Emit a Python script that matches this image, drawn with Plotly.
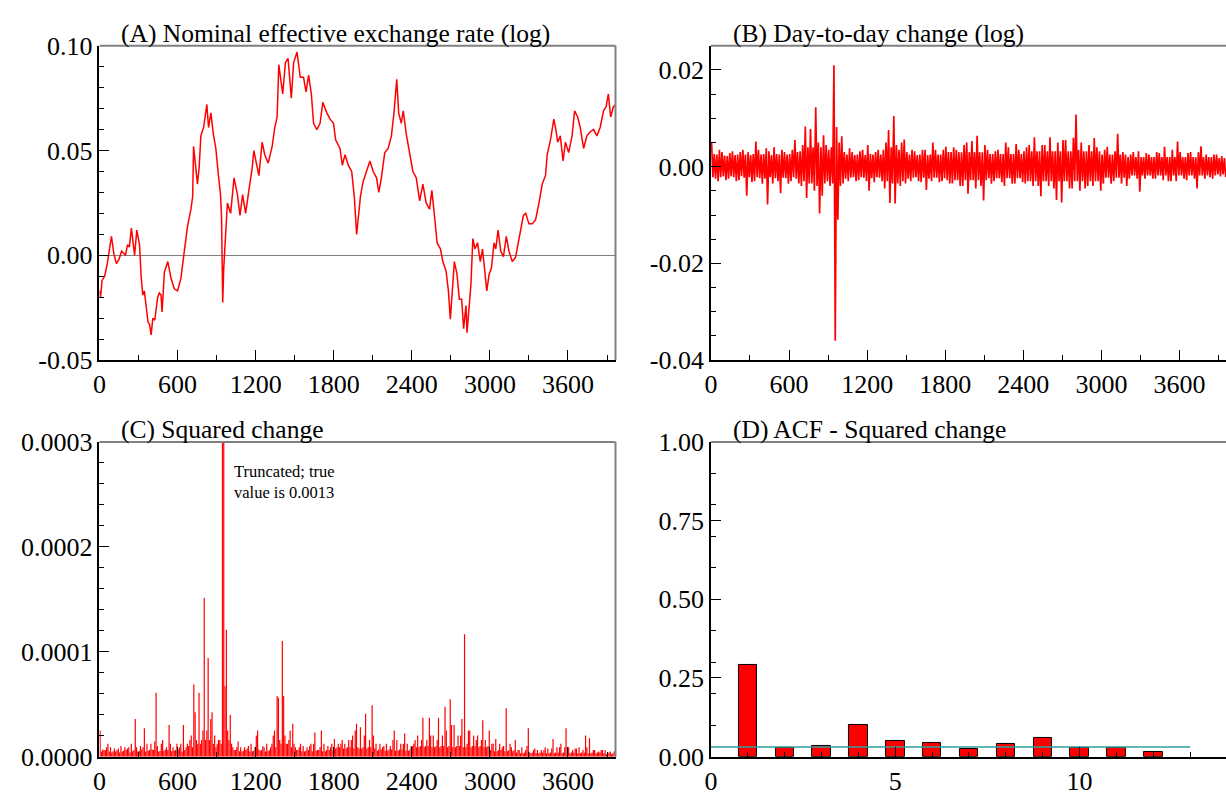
import numpy as np
import plotly.graph_objects as go

# ---------------- data ----------------
# (A) nominal effective exchange rate (log), read at key days
nee_day = [0, 8, 20, 40, 60, 80, 92, 110, 130, 150, 170, 200, 215, 230, 245, 270, 287, 308, 320, 333,
           345, 360, 373, 385, 397, 410, 425, 447, 460, 473, 481, 499, 525, 550, 575, 600, 626, 652, 677, 703,
           716, 723, 740, 753, 766, 779, 800, 825, 838, 856, 875, 894, 914, 930, 938, 947, 955, 970, 983, 1008,
           1034, 1060, 1080, 1100, 1123, 1148, 1174, 1186, 1212, 1225, 1250, 1270, 1296, 1327, 1347, 1365, 1378, 1395, 1408, 1429,
           1449, 1474, 1492, 1518, 1543, 1568, 1587, 1607, 1628, 1645, 1670, 1695, 1716, 1747, 1772, 1798, 1815, 1848, 1866, 1887,
           1912, 1938, 1958, 1976, 1990, 2005, 2025, 2052, 2078, 2103, 2129, 2146, 2166, 2192, 2218, 2243, 2263, 2284, 2299, 2319,
           2334, 2357, 2383, 2408, 2434, 2460, 2485, 2510, 2536, 2554, 2574, 2594, 2620, 2638, 2663, 2681, 2696, 2712, 2727, 2747,
           2765, 2783, 2798, 2816, 2824, 2841, 2854, 2869, 2885, 2905, 2926, 2943, 2956, 2976, 2994, 3012, 3032, 3045, 3063, 3083,
           3104, 3126, 3146, 3172, 3197, 3216, 3236, 3257, 3275, 3300, 3326, 3351, 3377, 3402, 3427, 3440, 3465, 3491, 3504, 3521,
           3541, 3562, 3580, 3605, 3631, 3651, 3674, 3694, 3720, 3745, 3771, 3796, 3822, 3847, 3873, 3893, 3910, 3928, 3949, 3962]
nee_log = [-0.017, -0.020, -0.012, -0.010, -0.004, 0.003, 0.009, 0.001, -0.004, -0.002, 0.002, 0.000, 0.005, 0.004, 0.013, 0.000, 0.012, 0.005, -0.010, -0.019,
           -0.017, -0.025, -0.032, -0.033, -0.038, -0.030, -0.031, -0.020, -0.018, -0.019, -0.027, -0.008, -0.003, -0.011, -0.016, -0.017, -0.011, 0.002, 0.014, 0.022,
           0.028, 0.052, 0.042, 0.034, 0.042, 0.057, 0.061, 0.072, 0.061, 0.068, 0.058, 0.051, 0.038, 0.029, 0.018, -0.0225, -0.006, 0.009, 0.025, 0.020,
           0.037, 0.029, 0.019, 0.029, 0.020, 0.031, 0.042, 0.050, 0.042, 0.038, 0.054, 0.048, 0.044, 0.052, 0.061, 0.066, 0.091, 0.083, 0.077, 0.092,
           0.094, 0.075, 0.092, 0.097, 0.085, 0.085, 0.078, 0.086, 0.077, 0.063, 0.060, 0.063, 0.073, 0.068, 0.065, 0.063, 0.055, 0.051, 0.043, 0.048,
           0.043, 0.040, 0.028, 0.010, 0.019, 0.028, 0.035, 0.040, 0.045, 0.040, 0.037, 0.030, 0.037, 0.049, 0.051, 0.057, 0.068, 0.084, 0.068, 0.063,
           0.069, 0.058, 0.049, 0.040, 0.037, 0.026, 0.034, 0.025, 0.022, 0.031, 0.019, 0.006, 0.003, -0.003, -0.0075, -0.017, -0.0305, -0.015, -0.003, -0.009,
           -0.021, -0.021, -0.035, -0.024, -0.037, -0.024, -0.014, 0.008, 0.003, 0.006, -0.003, 0.003, -0.004, -0.017, -0.009, -0.006, 0.006, 0.003, 0.012, 0.002,
           -0.0006, 0.009, 0.002, -0.003, -0.001, 0.005, 0.011, 0.019, 0.020, 0.015, 0.015, 0.017, 0.025, 0.034, 0.038, 0.048, 0.055, 0.065, 0.061, 0.054,
           0.057, 0.045, 0.054, 0.049, 0.057, 0.069, 0.066, 0.061, 0.051, 0.057, 0.059, 0.060, 0.057, 0.061, 0.069, 0.071, 0.077, 0.066, 0.071, 0.0715]

# (B) day-to-day change: highest and lowest change in each 20-day block (units of 0.001)
block_start = list(range(0, 3960, 20))
chg_high_milli = [5.0, 2.6, 2.5, 3.5, 3.0, 2.3, 2.2, 2.8, 3.2, 2.4,
                  2.5, 3.0, 3.5, 2.5, 3.0, 2.4, 2.6, 5.2, 3.5, 2.5,
                  2.6, 3.8, 3.2, 2.4, 4.0, 2.6, 2.5, 3.5, 3.0, 2.5,
                  2.6, 3.5, 5.5, 3.0, 3.2, 4.5, 8.3, 4.0, 7.8, 4.0,
                  12.3, 5.0, 4.0, 6.5, 4.5, 3.5, 4.0, 21.0, 8.2, 5.0,
                  6.3, 3.0, 2.5, 3.8, 3.0, 2.4, 2.5, 3.2, 3.5, 2.4,
                  4.5, 2.6, 2.5, 3.0, 3.5, 2.5, 3.5, 5.0, 7.6, 4.0,
                  10.5, 4.5, 3.5, 5.0, 5.6, 3.0, 2.5, 3.5, 3.2, 2.4,
                  2.5, 3.5, 3.5, 2.4, 2.5, 5.0, 3.5, 2.5, 2.5, 3.5,
                  4.1, 3.0, 3.0, 4.0, 3.5, 3.0, 3.0, 4.5, 5.0, 3.0,
                  5.3, 3.0, 6.4, 3.0, 3.0, 4.5, 3.5, 2.6, 2.6, 3.2,
                  3.5, 2.6, 2.6, 5.0, 4.0, 2.6, 2.6, 4.7, 3.5, 2.6,
                  3.2, 4.0, 4.5, 3.2, 6.1, 3.2, 3.2, 4.5, 4.5, 3.2,
                  6.1, 3.2, 3.2, 5.0, 3.2, 5.5, 5.5, 3.2, 3.2, 6.0,
                  10.8, 3.5, 5.0, 3.2, 3.2, 4.5, 3.2, 5.9, 4.0, 3.2,
                  2.5, 3.5, 4.1, 2.5, 2.5, 3.2, 6.8, 2.5, 3.0, 2.5,
                  2.0, 2.5, 3.0, 2.0, 3.2, 2.0, 2.0, 2.8, 2.5, 2.0,
                  2.0, 3.0, 2.8, 2.0, 4.1, 2.0, 2.0, 3.5, 2.0, 5.2,
                  3.0, 2.0, 2.0, 2.8, 3.0, 2.0, 2.0, 3.0, 4.2, 2.0,
                  2.5, 2.0, 2.0, 2.5, 2.5, 1.8, 2.2, 1.8]
chg_low_milli = [-2.2, -2.5, -3.0, -2.2, -2.0, -2.8, -2.5, -2.0, -2.2, -3.0,
                 -2.8, -2.0, -2.3, -6.0, -2.2, -3.2, -3.0, -2.2, -2.4, -3.5,
                 -2.5, -7.8, -2.2, -3.5, -2.4, -3.0, -5.5, -2.3, -2.4, -3.5,
                 -3.0, -2.2, -2.5, -3.5, -4.0, -3.0, -6.5, -3.5, -3.5, -5.0,
                 -4.0, -9.7, -6.0, -3.5, -3.0, -4.0, -3.5, -36.0, -11.0, -4.0,
                 -3.5, -2.5, -3.0, -2.3, -2.2, -3.0, -2.8, -2.2, -2.3, -3.0,
                 -5.0, -2.4, -3.2, -2.2, -2.3, -3.0, -4.5, -3.0, -7.5, -3.5,
                 -7.6, -3.5, -4.0, -3.0, -3.5, -2.5, -3.0, -2.3, -2.2, -3.0,
                 -3.2, -2.3, -4.8, -2.5, -3.0, -2.3, -2.3, -3.2, -3.0, -2.4,
                 -2.8, -3.5, -3.5, -2.8, -2.8, -4.0, -4.0, -2.8, -5.6, -2.8,
                 -2.8, -4.5, -2.8, -4.0, -7.0, -2.8, -2.4, -3.5, -3.0, -2.4,
                 -2.4, -3.2, -4.0, -2.4, -2.4, -3.5, -3.5, -2.4, -2.4, -3.2,
                 -3.5, -3.0, -3.0, -4.0, -3.0, -4.0, -6.1, -3.0, -3.0, -4.0,
                 -3.0, -4.5, -6.9, -3.0, -7.4, -3.0, -3.0, -4.5, -4.5, -3.0,
                 -3.0, -5.0, -3.0, -4.5, -4.0, -3.0, -4.0, -3.0, -3.0, -5.0,
                 -3.5, -2.3, -2.3, -3.5, -3.0, -2.3, -2.3, -3.5, -2.3, -4.0,
                 -2.5, -1.8, -1.8, -2.5, -5.2, -1.8, -2.5, -1.8, -1.8, -2.5,
                 -2.5, -1.8, -1.8, -2.8, -1.8, -3.0, -3.0, -1.8, -3.0, -1.8,
                 -1.8, -2.5, -2.8, -1.8, -1.8, -2.5, -4.5, -1.8, -1.8, -2.5,
                 -1.8, -2.2, -2.5, -1.8, -1.6, -2.0, -1.6, -2.2]

# (D) autocorrelation of squared change
acf_lag = [1, 2, 3, 4, 5, 6, 7, 8, 9, 10, 11, 12]
acf_val = [0.291, 0.029, 0.034, 0.101, 0.049, 0.044, 0.025, 0.041, 0.059, 0.029, 0.028, 0.014]
acf_ref_level = 0.031
acf_ref_lags = [0, 13]

day_ticks = [0, 600, 1200, 1800, 2400, 3000, 3600]
day_ticktext = ["0", "600", "1200", "1800", "2400", "3000", "3600"]
a_yticks = [-0.05, 0.0, 0.05, 0.10]
a_yticktext = ["-0.05", "0.00", "0.05", "0.10"]
b_yticks = [-0.04, -0.02, 0.0, 0.02]
b_yticktext = ["-0.04", "-0.02", "0.00", "0.02"]
c_yticks = [0.0, 0.0001, 0.0002, 0.0003]
c_yticktext = ["0.0000", "0.0001", "0.0002", "0.0003"]
d_yticks = [0.0, 0.25, 0.5, 0.75, 1.0]
d_yticktext = ["0.00", "0.25", "0.50", "0.75", "1.00"]
d_xticks = [0, 5, 10]
d_xticktext = ["0", "5", "10"]

# ---------------- derived series ----------------
chg_day = []
chg_val = []
for s, hi, lo in zip(block_start, chg_high_milli, chg_low_milli):
    chg_day += [s + 5, s + 15]
    chg_val += [hi * 1e-3, lo * 1e-3]
chg_val = np.array(chg_val)
sq_val = chg_val ** 2

sq_x, sq_y = [], []
for d, v in zip(chg_day, sq_val):
    sq_x += [d, d, None]
    sq_y += [0.0, v, None]

# ---------------- figure ----------------
W, H = 1226, 803
RED = "#ff0000"
FONT = "Liberation Serif"

fig = go.Figure()
fig.add_trace(go.Scatter(x=nee_day, y=nee_log, mode="lines", line=dict(color=RED, width=1.5),
                         xaxis="x", yaxis="y"))
fig.add_trace(go.Scatter(x=chg_day, y=chg_val, mode="lines", line=dict(color=RED, width=1.7),
                         xaxis="x2", yaxis="y2"))
fig.add_trace(go.Scatter(x=sq_x, y=sq_y, mode="lines", line=dict(color=RED, width=1.2),
                         xaxis="x3", yaxis="y3"))
fig.add_trace(go.Bar(x=acf_lag, y=acf_val, width=0.5,
                     marker=dict(color=RED, line=dict(color="black", width=1)),
                     xaxis="x4", yaxis="y4"))
fig.add_trace(go.Scatter(x=acf_ref_lags, y=[acf_ref_level] * len(acf_ref_lags), mode="lines",
                         line=dict(color="#2e9e9a", width=1.5), xaxis="x4", yaxis="y4"))

left_dom = [93 / W, 612 / W]
right_dom = [708 / W, 1.0]
top_dom = [1 - 359 / H, 1 - 33 / H]
bot_dom = [1 - 770.5 / H, 1 - 444 / H]
right_frac = (W - 708) / 519.0

tickfont = dict(family=FONT, size=26, color="black")


def ax(domain, anchor, rng, tickvals, ticktext, minor_dtick, **kw):
    d = dict(domain=domain, anchor=anchor, range=rng, tickmode="array", tickvals=tickvals,
             ticktext=ticktext, ticks="inside", ticklen=10, tickwidth=1.2, tickcolor="black",
             showline=True, linecolor="black", linewidth=1.5, showgrid=False, zeroline=False,
             tickfont=tickfont, fixedrange=True,
             minor=dict(tickmode="linear", tick0=0, dtick=minor_dtick, ticks="inside", ticklen=5,
                        tickwidth=1, tickcolor="black", showgrid=False))
    d.update(kw)
    return d


xmax = 3965
fig.update_layout(
    width=W, height=H, margin=dict(l=0, r=0, t=0, b=0),
    paper_bgcolor="white", plot_bgcolor="white", showlegend=False,
    font=dict(family=FONT, color="black"),
    bargap=0,
    xaxis=ax(left_dom, "y", [0, xmax], day_ticks, day_ticktext, 300),
    yaxis=ax(top_dom, "x", [-0.05, 0.10], a_yticks, a_yticktext, 0.01,
             zeroline=True, zerolinecolor="#808080", zerolinewidth=1),
    xaxis2=ax(right_dom, "y2", [0, xmax * right_frac], day_ticks, day_ticktext, 300),
    yaxis2=ax(top_dom, "x2", [-0.04, 0.025], b_yticks, b_yticktext, 0.005),
    xaxis3=ax(left_dom, "y3", [0, xmax], day_ticks, day_ticktext, 300),
    yaxis3=ax(bot_dom, "x3", [0, 0.0003], c_yticks, c_yticktext, 0.00002),
    xaxis4=ax(right_dom, "y4", [0, 14 * right_frac], d_xticks, d_xticktext, 1),
    yaxis4=ax(bot_dom, "x4", [0, 1.0], d_yticks, d_yticktext, 0.1),
)

# frame: grey top (and right where visible)
shapes = []
for xr, yr, has_right in [("x", "y", True), ("x2", "y2", False), ("x3", "y3", True), ("x4", "y4", False)]:
    shapes.append(dict(type="line", xref=f"{xr} domain", yref=f"{yr} domain", x0=0, x1=1, y0=1, y1=1,
                       line=dict(color="#808080", width=2)))
    if has_right:
        shapes.append(dict(type="line", xref=f"{xr} domain", yref=f"{yr} domain", x0=1, x1=1, y0=0, y1=1,
                           line=dict(color="#808080", width=2)))
fig.update_layout(shapes=shapes)

titles = [("x", "y", "(A) Nominal effective exchange rate (log)"),
          ("x2", "y2", "(B) Day-to-day change (log)"),
          ("x3", "y3", "(C) Squared change"),
          ("x4", "y4", "(D) ACF - Squared change")]
ann = []
for xr, yr, t in titles:
    ann.append(dict(xref=f"{xr} domain", yref=f"{yr} domain", x=25 / 519, y=1, xanchor="left",
                    yanchor="bottom", text=t, showarrow=False, yshift=-4, xshift=-5,
                    font=dict(family=FONT, size=25.5, color="black")))
ann.append(dict(xref="x3", yref="y3", x=1015, y=0.000283, xanchor="left", yanchor="top", align="left",
                text="Truncated; true<br>value is 0.0013", showarrow=False,
                font=dict(family=FONT, size=16.5, color="black")))
fig.update_layout(annotations=ann)

fig.write_html("out.html")
